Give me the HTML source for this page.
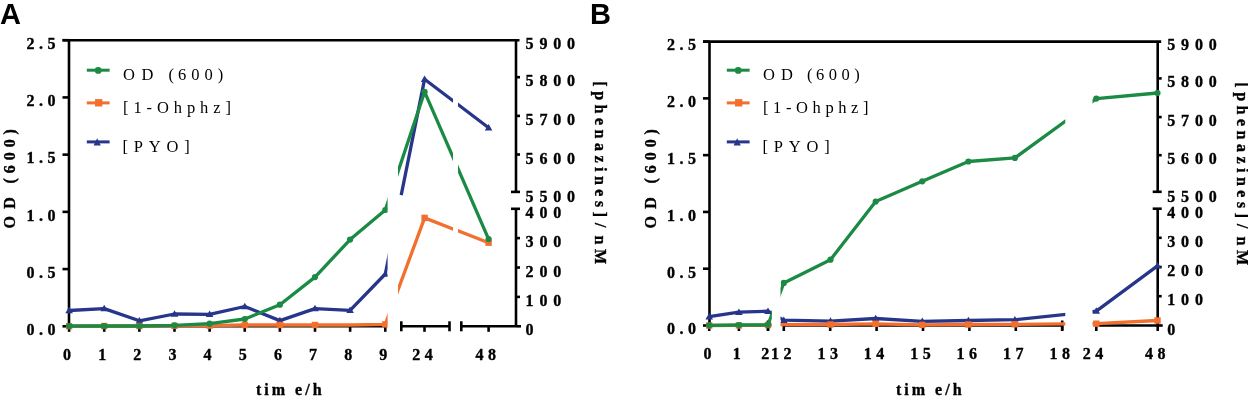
<!DOCTYPE html><html><head><meta charset="utf-8"><style>html,body{margin:0;padding:0;background:#fff;width:1248px;height:396px;overflow:hidden}svg{display:block;will-change:transform}</style></head><body><svg width="1248" height="396" viewBox="0 0 1248 396">
<defs>
<clipPath id="a1"><rect x="0" y="0" width="387.6" height="396"/></clipPath>
<clipPath id="a2"><rect x="398.0" y="0" width="55.0" height="396"/></clipPath>
<clipPath id="a3"><rect x="458.0" y="0" width="142.0" height="396"/></clipPath>
<clipPath id="a2b"><rect x="390" y="0" width="63.0" height="396"/></clipPath>
<clipPath id="b1"><rect x="640" y="0" width="131.79999999999995" height="396"/></clipPath>
<clipPath id="b2"><rect x="780.5" y="0" width="284.79999999999995" height="396"/></clipPath>
<clipPath id="b3"><rect x="1092.5" y="0" width="147.5" height="396"/></clipPath>
</defs>
<style>text{font-family:"Liberation Serif",serif;fill:#000}.tk,.tr,.ax{stroke:#000;stroke-width:0.35px}.tk{font-weight:bold;font-size:16px;letter-spacing:4.5px}.tr{font-weight:bold;font-size:16px;letter-spacing:5.8px}.lg{font-size:16.5px;letter-spacing:5.2px}.ax{font-weight:bold;font-size:16px;letter-spacing:3px}.pn{font-family:"Liberation Sans",sans-serif;font-weight:bold;font-size:29px}</style>
<rect width="1248" height="396" fill="#fff"/>
<line x1="62.5" y1="40.2" x2="519.5" y2="40.2" stroke="#000" stroke-width="2.6"/>
<line x1="69.0" y1="40.2" x2="69.0" y2="326.3" stroke="#000" stroke-width="2.6"/>
<line x1="62.5" y1="326.3" x2="69.0" y2="326.3" stroke="#000" stroke-width="2.6"/>
<line x1="62.5" y1="269.08" x2="69.0" y2="269.08" stroke="#000" stroke-width="2.6"/>
<line x1="62.5" y1="211.86" x2="69.0" y2="211.86" stroke="#000" stroke-width="2.6"/>
<line x1="62.5" y1="154.64" x2="69.0" y2="154.64" stroke="#000" stroke-width="2.6"/>
<line x1="62.5" y1="97.41999999999999" x2="69.0" y2="97.41999999999999" stroke="#000" stroke-width="2.6"/>
<line x1="62.5" y1="40.19999999999999" x2="69.0" y2="40.19999999999999" stroke="#000" stroke-width="2.6"/>
<line x1="69.0" y1="326.3" x2="386.5" y2="326.3" stroke="#000" stroke-width="2.6"/>
<line x1="401.3" y1="326.3" x2="449.5" y2="326.3" stroke="#000" stroke-width="2.6"/>
<line x1="401.3" y1="321.3" x2="401.3" y2="331.3" stroke="#000" stroke-width="2.6"/>
<line x1="449.5" y1="321.3" x2="449.5" y2="331.3" stroke="#000" stroke-width="2.6"/>
<line x1="461.3" y1="326.3" x2="516.0" y2="326.3" stroke="#000" stroke-width="2.6"/>
<line x1="461.3" y1="321.3" x2="461.3" y2="331.3" stroke="#000" stroke-width="2.6"/>
<line x1="69.1" y1="326.3" x2="69.1" y2="331.8" stroke="#000" stroke-width="2.6"/>
<line x1="104.22999999999999" y1="326.3" x2="104.22999999999999" y2="331.8" stroke="#000" stroke-width="2.6"/>
<line x1="139.36" y1="326.3" x2="139.36" y2="331.8" stroke="#000" stroke-width="2.6"/>
<line x1="174.49" y1="326.3" x2="174.49" y2="331.8" stroke="#000" stroke-width="2.6"/>
<line x1="209.62" y1="326.3" x2="209.62" y2="331.8" stroke="#000" stroke-width="2.6"/>
<line x1="244.75" y1="326.3" x2="244.75" y2="331.8" stroke="#000" stroke-width="2.6"/>
<line x1="279.88" y1="326.3" x2="279.88" y2="331.8" stroke="#000" stroke-width="2.6"/>
<line x1="315.01" y1="326.3" x2="315.01" y2="331.8" stroke="#000" stroke-width="2.6"/>
<line x1="350.14" y1="326.3" x2="350.14" y2="331.8" stroke="#000" stroke-width="2.6"/>
<line x1="385.27" y1="326.3" x2="385.27" y2="331.8" stroke="#000" stroke-width="2.6"/>
<line x1="424.5" y1="326.3" x2="424.5" y2="331.8" stroke="#000" stroke-width="2.6"/>
<line x1="488.6" y1="326.3" x2="488.6" y2="331.8" stroke="#000" stroke-width="2.6"/>
<line x1="516.0" y1="208.8" x2="516.0" y2="326.3" stroke="#000" stroke-width="2.6"/>
<line x1="516.0" y1="40.2" x2="516.0" y2="191.9" stroke="#000" stroke-width="2.6"/>
<line x1="511.0" y1="208.8" x2="520.0" y2="208.8" stroke="#000" stroke-width="2.6"/>
<line x1="511.0" y1="191.9" x2="520.0" y2="191.9" stroke="#000" stroke-width="2.6"/>
<line x1="516.0" y1="326.3" x2="521.0" y2="326.3" stroke="#000" stroke-width="2.6"/>
<line x1="516.0" y1="296.9" x2="520.0" y2="296.9" stroke="#000" stroke-width="2.6"/>
<line x1="516.0" y1="267.5" x2="520.0" y2="267.5" stroke="#000" stroke-width="2.6"/>
<line x1="516.0" y1="238.1" x2="520.0" y2="238.1" stroke="#000" stroke-width="2.6"/>
<line x1="516.0" y1="154.5" x2="520.0" y2="154.5" stroke="#000" stroke-width="2.6"/>
<line x1="516.0" y1="115.9" x2="520.0" y2="115.9" stroke="#000" stroke-width="2.6"/>
<line x1="516.0" y1="77.2" x2="520.0" y2="77.2" stroke="#000" stroke-width="2.6"/>
<line x1="703.0" y1="41.6" x2="1161.2" y2="41.6" stroke="#000" stroke-width="2.6"/>
<line x1="709.5" y1="41.6" x2="709.5" y2="325.5" stroke="#000" stroke-width="2.6"/>
<line x1="703.0" y1="325.5" x2="709.5" y2="325.5" stroke="#000" stroke-width="2.6"/>
<line x1="703.0" y1="268.72" x2="709.5" y2="268.72" stroke="#000" stroke-width="2.6"/>
<line x1="703.0" y1="211.94" x2="709.5" y2="211.94" stroke="#000" stroke-width="2.6"/>
<line x1="703.0" y1="155.16000000000003" x2="709.5" y2="155.16000000000003" stroke="#000" stroke-width="2.6"/>
<line x1="703.0" y1="98.38000000000002" x2="709.5" y2="98.38000000000002" stroke="#000" stroke-width="2.6"/>
<line x1="703.0" y1="41.60000000000002" x2="709.5" y2="41.60000000000002" stroke="#000" stroke-width="2.6"/>
<line x1="709.5" y1="325.5" x2="768.0" y2="325.5" stroke="#000" stroke-width="2.6"/>
<line x1="768.0" y1="320.5" x2="768.0" y2="330.5" stroke="#000" stroke-width="2.6"/>
<line x1="783.8" y1="325.5" x2="1062.2" y2="325.5" stroke="#000" stroke-width="2.6"/>
<line x1="1062.2" y1="320.5" x2="1062.2" y2="330.5" stroke="#000" stroke-width="2.6"/>
<line x1="1096.0" y1="325.5" x2="1157.7" y2="325.5" stroke="#000" stroke-width="2.6"/>
<line x1="709.2" y1="325.5" x2="709.2" y2="331.0" stroke="#000" stroke-width="2.6"/>
<line x1="738.9" y1="325.5" x2="738.9" y2="331.0" stroke="#000" stroke-width="2.6"/>
<line x1="768.0" y1="325.5" x2="768.0" y2="331.0" stroke="#000" stroke-width="2.6"/>
<line x1="783.8" y1="325.5" x2="783.8" y2="331.0" stroke="#000" stroke-width="2.6"/>
<line x1="830.1999999999999" y1="325.5" x2="830.1999999999999" y2="331.0" stroke="#000" stroke-width="2.6"/>
<line x1="876.5999999999999" y1="325.5" x2="876.5999999999999" y2="331.0" stroke="#000" stroke-width="2.6"/>
<line x1="923.0" y1="325.5" x2="923.0" y2="331.0" stroke="#000" stroke-width="2.6"/>
<line x1="969.4" y1="325.5" x2="969.4" y2="331.0" stroke="#000" stroke-width="2.6"/>
<line x1="1015.8" y1="325.5" x2="1015.8" y2="331.0" stroke="#000" stroke-width="2.6"/>
<line x1="1062.1999999999998" y1="325.5" x2="1062.1999999999998" y2="331.0" stroke="#000" stroke-width="2.6"/>
<line x1="1096.3" y1="325.5" x2="1096.3" y2="331.0" stroke="#000" stroke-width="2.6"/>
<line x1="1157.7" y1="325.5" x2="1157.7" y2="331.0" stroke="#000" stroke-width="2.6"/>
<line x1="1157.7" y1="208.7" x2="1157.7" y2="325.5" stroke="#000" stroke-width="2.6"/>
<line x1="1157.7" y1="41.6" x2="1157.7" y2="191.8" stroke="#000" stroke-width="2.6"/>
<line x1="1152.7" y1="208.7" x2="1161.7" y2="208.7" stroke="#000" stroke-width="2.6"/>
<line x1="1152.7" y1="191.8" x2="1161.7" y2="191.8" stroke="#000" stroke-width="2.6"/>
<line x1="1157.7" y1="325.5" x2="1162.7" y2="325.5" stroke="#000" stroke-width="2.6"/>
<line x1="1157.7" y1="296.2" x2="1161.7" y2="296.2" stroke="#000" stroke-width="2.6"/>
<line x1="1157.7" y1="267.0" x2="1161.7" y2="267.0" stroke="#000" stroke-width="2.6"/>
<line x1="1157.7" y1="237.8" x2="1161.7" y2="237.8" stroke="#000" stroke-width="2.6"/>
<line x1="1157.7" y1="155.2" x2="1161.7" y2="155.2" stroke="#000" stroke-width="2.6"/>
<line x1="1157.7" y1="117.1" x2="1161.7" y2="117.1" stroke="#000" stroke-width="2.6"/>
<line x1="1157.7" y1="78.4" x2="1161.7" y2="78.4" stroke="#000" stroke-width="2.6"/>
<polyline clip-path="url(#a1)" points="69.1,310.5 104.2,308.6 139.4,320.8 174.5,314.0 209.6,314.4 244.8,306.5 279.9,320.6 315.0,308.6 350.1,310.3 385.3,274.0 424.6,79.2 488.6,127.7" fill="none" stroke="#27368a" stroke-width="3.3" stroke-linejoin="round"/>
<polyline clip-path="url(#a3)" points="69.1,310.5 104.2,308.6 139.4,320.8 174.5,314.0 209.6,314.4 244.8,306.5 279.9,320.6 315.0,308.6 350.1,310.3 385.3,274.0 424.6,79.2 488.6,127.7" fill="none" stroke="#27368a" stroke-width="3.3" stroke-linejoin="round"/>
<polygon clip-path="url(#a1)" points="69.1,306.7 72.9,313.2 65.3,313.2" fill="#27368a"/>
<polygon clip-path="url(#a1)" points="104.2,304.8 108.0,311.3 100.4,311.3" fill="#27368a"/>
<polygon clip-path="url(#a1)" points="139.4,317.0 143.2,323.5 135.6,323.5" fill="#27368a"/>
<polygon clip-path="url(#a1)" points="174.5,310.2 178.3,316.7 170.7,316.7" fill="#27368a"/>
<polygon clip-path="url(#a1)" points="209.6,310.6 213.4,317.1 205.8,317.1" fill="#27368a"/>
<polygon clip-path="url(#a1)" points="244.8,302.7 248.6,309.2 240.9,309.2" fill="#27368a"/>
<polygon clip-path="url(#a1)" points="279.9,316.8 283.7,323.3 276.1,323.3" fill="#27368a"/>
<polygon clip-path="url(#a1)" points="315.0,304.8 318.8,311.3 311.2,311.3" fill="#27368a"/>
<polygon clip-path="url(#a1)" points="350.1,306.5 353.9,313.0 346.3,313.0" fill="#27368a"/>
<polygon clip-path="url(#a1)" points="385.3,270.2 389.1,276.7 381.5,276.7" fill="#27368a"/>
<polygon clip-path="url(#a2)" points="424.6,75.4 428.4,81.9 420.8,81.9" fill="#27368a"/>
<polygon clip-path="url(#a3)" points="488.6,123.9 492.4,130.4 484.8,130.4" fill="#27368a"/>
<polyline clip-path="url(#a2b)" points="401.2,195.1 424.6,79.2 488.6,127.7" fill="none" stroke="#27368a" stroke-width="3.3" stroke-linejoin="round"/>
<polyline clip-path="url(#a1)" points="69.1,326.2 104.2,326.0 139.4,326.0 174.5,325.8 209.6,325.6 244.8,325.0 279.9,325.0 315.0,325.0 350.1,325.0 385.3,324.4 424.6,217.9 488.6,242.7" fill="none" stroke="#f26f2e" stroke-width="3.3" stroke-linejoin="round"/>
<polyline clip-path="url(#a2)" points="69.1,326.2 104.2,326.0 139.4,326.0 174.5,325.8 209.6,325.6 244.8,325.0 279.9,325.0 315.0,325.0 350.1,325.0 385.3,324.4 424.6,217.9 488.6,242.7" fill="none" stroke="#f26f2e" stroke-width="3.3" stroke-linejoin="round"/>
<polyline clip-path="url(#a3)" points="69.1,326.2 104.2,326.0 139.4,326.0 174.5,325.8 209.6,325.6 244.8,325.0 279.9,325.0 315.0,325.0 350.1,325.0 385.3,324.4 424.6,217.9 488.6,242.7" fill="none" stroke="#f26f2e" stroke-width="3.3" stroke-linejoin="round"/>
<rect clip-path="url(#a1)" x="65.9" y="323.0" width="6.4" height="6.4" fill="#f26f2e"/>
<rect clip-path="url(#a1)" x="101.0" y="322.8" width="6.4" height="6.4" fill="#f26f2e"/>
<rect clip-path="url(#a1)" x="136.2" y="322.8" width="6.4" height="6.4" fill="#f26f2e"/>
<rect clip-path="url(#a1)" x="171.3" y="322.6" width="6.4" height="6.4" fill="#f26f2e"/>
<rect clip-path="url(#a1)" x="206.4" y="322.4" width="6.4" height="6.4" fill="#f26f2e"/>
<rect clip-path="url(#a1)" x="241.6" y="321.8" width="6.4" height="6.4" fill="#f26f2e"/>
<rect clip-path="url(#a1)" x="276.7" y="321.8" width="6.4" height="6.4" fill="#f26f2e"/>
<rect clip-path="url(#a1)" x="311.8" y="321.8" width="6.4" height="6.4" fill="#f26f2e"/>
<rect clip-path="url(#a1)" x="382.1" y="321.2" width="6.4" height="6.4" fill="#f26f2e"/>
<rect clip-path="url(#a2)" x="421.4" y="214.7" width="6.4" height="6.4" fill="#f26f2e"/>
<rect clip-path="url(#a3)" x="485.4" y="239.5" width="6.4" height="6.4" fill="#f26f2e"/>
<polyline clip-path="url(#a1)" points="69.1,326.0 104.2,326.0 139.4,326.0 174.5,325.3 209.6,323.7 244.8,319.0 279.9,304.7 315.0,277.1 350.1,239.6 385.3,210.0 424.6,91.9 488.6,239.1" fill="none" stroke="#1b8a44" stroke-width="3.3" stroke-linejoin="round"/>
<polyline clip-path="url(#a2)" points="69.1,326.0 104.2,326.0 139.4,326.0 174.5,325.3 209.6,323.7 244.8,319.0 279.9,304.7 315.0,277.1 350.1,239.6 385.3,210.0 424.6,91.9 488.6,239.1" fill="none" stroke="#1b8a44" stroke-width="3.3" stroke-linejoin="round"/>
<polyline clip-path="url(#a3)" points="69.1,326.0 104.2,326.0 139.4,326.0 174.5,325.3 209.6,323.7 244.8,319.0 279.9,304.7 315.0,277.1 350.1,239.6 385.3,210.0 424.6,91.9 488.6,239.1" fill="none" stroke="#1b8a44" stroke-width="3.3" stroke-linejoin="round"/>
<circle clip-path="url(#a1)" cx="69.1" cy="326.0" r="3.1" fill="#1b8a44"/>
<circle clip-path="url(#a1)" cx="104.2" cy="326.0" r="3.1" fill="#1b8a44"/>
<circle clip-path="url(#a1)" cx="139.4" cy="326.0" r="3.1" fill="#1b8a44"/>
<circle clip-path="url(#a1)" cx="174.5" cy="325.3" r="3.1" fill="#1b8a44"/>
<circle clip-path="url(#a1)" cx="209.6" cy="323.7" r="3.1" fill="#1b8a44"/>
<circle clip-path="url(#a1)" cx="244.8" cy="319.0" r="3.1" fill="#1b8a44"/>
<circle clip-path="url(#a1)" cx="279.9" cy="304.7" r="3.1" fill="#1b8a44"/>
<circle clip-path="url(#a1)" cx="315.0" cy="277.1" r="3.1" fill="#1b8a44"/>
<circle clip-path="url(#a1)" cx="350.1" cy="239.6" r="3.1" fill="#1b8a44"/>
<circle clip-path="url(#a1)" cx="385.3" cy="210.0" r="3.1" fill="#1b8a44"/>
<circle clip-path="url(#a2)" cx="424.6" cy="91.9" r="3.1" fill="#1b8a44"/>
<circle clip-path="url(#a3)" cx="488.6" cy="239.1" r="3.1" fill="#1b8a44"/>
<polyline clip-path="url(#b1)" points="709.2,316.7 738.9,312.2 768.0,311.2 783.8,320.2 830.5,321.1 875.7,318.5 922.3,321.3 968.4,320.5 1014.9,319.7 1096.3,311.1 1157.5,265.9" fill="none" stroke="#27368a" stroke-width="3.3" stroke-linejoin="round"/>
<polyline clip-path="url(#b2)" points="709.2,316.7 738.9,312.2 768.0,311.2 783.8,320.2 830.5,321.1 875.7,318.5 922.3,321.3 968.4,320.5 1014.9,319.7 1096.3,311.1 1157.5,265.9" fill="none" stroke="#27368a" stroke-width="3.3" stroke-linejoin="round"/>
<polyline clip-path="url(#b3)" points="709.2,316.7 738.9,312.2 768.0,311.2 783.8,320.2 830.5,321.1 875.7,318.5 922.3,321.3 968.4,320.5 1014.9,319.7 1096.3,311.1 1157.5,265.9" fill="none" stroke="#27368a" stroke-width="3.3" stroke-linejoin="round"/>
<polygon clip-path="url(#b1)" points="709.2,312.9 713.0,319.4 705.4,319.4" fill="#27368a"/>
<polygon clip-path="url(#b1)" points="738.9,308.4 742.7,314.9 735.1,314.9" fill="#27368a"/>
<polygon clip-path="url(#b1)" points="768.0,307.4 771.8,313.9 764.2,313.9" fill="#27368a"/>
<polygon clip-path="url(#b2)" points="783.8,316.4 787.6,322.9 780.0,322.9" fill="#27368a"/>
<polygon clip-path="url(#b2)" points="830.5,317.3 834.3,323.8 826.7,323.8" fill="#27368a"/>
<polygon clip-path="url(#b2)" points="875.7,314.7 879.5,321.2 871.9,321.2" fill="#27368a"/>
<polygon clip-path="url(#b2)" points="922.3,317.5 926.1,324.0 918.5,324.0" fill="#27368a"/>
<polygon clip-path="url(#b2)" points="968.4,316.7 972.2,323.2 964.6,323.2" fill="#27368a"/>
<polygon clip-path="url(#b2)" points="1014.9,315.9 1018.7,322.4 1011.1,322.4" fill="#27368a"/>
<polygon clip-path="url(#b3)" points="1096.3,307.3 1100.1,313.8 1092.5,313.8" fill="#27368a"/>
<polygon clip-path="url(#b3)" points="1157.5,262.1 1161.3,268.6 1153.7,268.6" fill="#27368a"/>
<polyline clip-path="url(#b1)" points="709.2,325.5 738.9,325.4 768.0,325.0 783.8,324.6 830.5,324.5 875.7,323.8 922.3,324.9 968.4,324.5 1014.9,324.3 1096.3,323.7 1157.5,320.5" fill="none" stroke="#f26f2e" stroke-width="3.3" stroke-linejoin="round"/>
<polyline clip-path="url(#b2)" points="709.2,325.5 738.9,325.4 768.0,325.0 783.8,324.6 830.5,324.5 875.7,323.8 922.3,324.9 968.4,324.5 1014.9,324.3 1096.3,323.7 1157.5,320.5" fill="none" stroke="#f26f2e" stroke-width="3.3" stroke-linejoin="round"/>
<polyline clip-path="url(#b3)" points="709.2,325.5 738.9,325.4 768.0,325.0 783.8,324.6 830.5,324.5 875.7,323.8 922.3,324.9 968.4,324.5 1014.9,324.3 1096.3,323.7 1157.5,320.5" fill="none" stroke="#f26f2e" stroke-width="3.3" stroke-linejoin="round"/>
<rect clip-path="url(#b1)" x="706.0" y="322.3" width="6.4" height="6.4" fill="#f26f2e"/>
<rect clip-path="url(#b1)" x="735.7" y="322.2" width="6.4" height="6.4" fill="#f26f2e"/>
<rect clip-path="url(#b1)" x="764.8" y="321.8" width="6.4" height="6.4" fill="#f26f2e"/>
<rect clip-path="url(#b2)" x="827.3" y="321.3" width="6.4" height="6.4" fill="#f26f2e"/>
<rect clip-path="url(#b2)" x="872.5" y="320.6" width="6.4" height="6.4" fill="#f26f2e"/>
<rect clip-path="url(#b2)" x="919.1" y="321.7" width="6.4" height="6.4" fill="#f26f2e"/>
<rect clip-path="url(#b2)" x="965.2" y="321.3" width="6.4" height="6.4" fill="#f26f2e"/>
<rect clip-path="url(#b2)" x="1011.7" y="321.1" width="6.4" height="6.4" fill="#f26f2e"/>
<rect clip-path="url(#b3)" x="1093.1" y="320.5" width="6.4" height="6.4" fill="#f26f2e"/>
<rect clip-path="url(#b3)" x="1154.3" y="317.3" width="6.4" height="6.4" fill="#f26f2e"/>
<polyline clip-path="url(#b1)" points="709.2,325.3 738.9,325.0 768.0,324.8 783.8,282.9 830.5,259.7 875.7,201.5 922.3,181.3 968.4,161.5 1014.9,157.9 1096.3,98.6 1157.5,93.0" fill="none" stroke="#1b8a44" stroke-width="3.3" stroke-linejoin="round"/>
<polyline clip-path="url(#b2)" points="709.2,325.3 738.9,325.0 768.0,324.8 783.8,282.9 830.5,259.7 875.7,201.5 922.3,181.3 968.4,161.5 1014.9,157.9 1096.3,98.6 1157.5,93.0" fill="none" stroke="#1b8a44" stroke-width="3.3" stroke-linejoin="round"/>
<polyline clip-path="url(#b3)" points="709.2,325.3 738.9,325.0 768.0,324.8 783.8,282.9 830.5,259.7 875.7,201.5 922.3,181.3 968.4,161.5 1014.9,157.9 1096.3,98.6 1157.5,93.0" fill="none" stroke="#1b8a44" stroke-width="3.3" stroke-linejoin="round"/>
<circle clip-path="url(#b1)" cx="709.2" cy="325.3" r="3.1" fill="#1b8a44"/>
<circle clip-path="url(#b1)" cx="738.9" cy="325.0" r="3.1" fill="#1b8a44"/>
<circle clip-path="url(#b1)" cx="768.0" cy="324.8" r="3.1" fill="#1b8a44"/>
<circle clip-path="url(#b2)" cx="783.8" cy="282.9" r="3.1" fill="#1b8a44"/>
<circle clip-path="url(#b2)" cx="830.5" cy="259.7" r="3.1" fill="#1b8a44"/>
<circle clip-path="url(#b2)" cx="875.7" cy="201.5" r="3.1" fill="#1b8a44"/>
<circle clip-path="url(#b2)" cx="922.3" cy="181.3" r="3.1" fill="#1b8a44"/>
<circle clip-path="url(#b2)" cx="968.4" cy="161.5" r="3.1" fill="#1b8a44"/>
<circle clip-path="url(#b2)" cx="1014.9" cy="157.9" r="3.1" fill="#1b8a44"/>
<circle clip-path="url(#b3)" cx="1096.3" cy="98.6" r="3.1" fill="#1b8a44"/>
<circle clip-path="url(#b3)" cx="1157.5" cy="93.0" r="3.1" fill="#1b8a44"/>
<line x1="86.8" y1="70.2" x2="109.6" y2="70.2" stroke="#1b8a44" stroke-width="3"/>
<line x1="86.8" y1="102.9" x2="109.6" y2="102.9" stroke="#f26f2e" stroke-width="3"/>
<line x1="86.8" y1="141.9" x2="109.6" y2="141.9" stroke="#27368a" stroke-width="3"/>
<circle cx="98.2" cy="70.4" r="3.4" fill="#1b8a44"/>
<rect x="95.0" y="99.1" width="7.3" height="7.4" fill="#f26f2e"/>
<polygon points="97.2,138.2 100.8,145.4 93.6,145.4" fill="#27368a"/>
<text x="123" y="79.5" class="lg" style="letter-spacing:5.0px" xml:space="preserve">O<tspan dx="1.5">D </tspan><tspan dx="1">(</tspan><tspan dx="-1">600)</tspan></text>
<text x="123" y="113.2" class="lg" text-anchor="start" style="letter-spacing:4.9px">[1-Ohphz]</text>
<text x="122.5" y="151.8" class="lg" text-anchor="start" style="letter-spacing:5.8px">[PYO]</text>
<line x1="726.8" y1="70.2" x2="749.6" y2="70.2" stroke="#1b8a44" stroke-width="3"/>
<line x1="726.8" y1="102.9" x2="749.6" y2="102.9" stroke="#f26f2e" stroke-width="3"/>
<line x1="726.8" y1="141.9" x2="749.6" y2="141.9" stroke="#27368a" stroke-width="3"/>
<circle cx="738.2" cy="70.4" r="3.4" fill="#1b8a44"/>
<rect x="735.0" y="99.1" width="7.3" height="7.4" fill="#f26f2e"/>
<polygon points="737.2,138.2 740.8,145.4 733.6,145.4" fill="#27368a"/>
<text x="763" y="79.5" class="lg" style="letter-spacing:4.5px" xml:space="preserve">O<tspan dx="1.5">D </tspan><tspan dx="1">(</tspan><tspan dx="-1">600)</tspan></text>
<text x="763" y="113.2" class="lg" text-anchor="start" style="letter-spacing:4.6px">[1-Ohphz]</text>
<text x="762.5" y="151.8" class="lg" text-anchor="start" style="letter-spacing:5.8px">[PYO]</text>
<text x="60.0" y="335.1" class="tk" text-anchor="end" >0.0</text>
<text x="60.0" y="277.88" class="tk" text-anchor="end" >0.5</text>
<text x="60.0" y="220.66000000000003" class="tk" text-anchor="end" >1.0</text>
<text x="60.0" y="163.44" class="tk" text-anchor="end" >1.5</text>
<text x="60.0" y="106.21999999999998" class="tk" text-anchor="end" >2.0</text>
<text x="60.0" y="48.999999999999986" class="tk" text-anchor="end" >2.5</text>
<text x="700.5" y="334.3" class="tk" text-anchor="end" >0.0</text>
<text x="700.5" y="277.52000000000004" class="tk" text-anchor="end" >0.5</text>
<text x="700.5" y="220.74" class="tk" text-anchor="end" >1.0</text>
<text x="700.5" y="163.96000000000004" class="tk" text-anchor="end" >1.5</text>
<text x="700.5" y="107.18000000000002" class="tk" text-anchor="end" >2.0</text>
<text x="700.5" y="50.40000000000002" class="tk" text-anchor="end" >2.5</text>
<text x="525.6" y="335.3" class="tr" text-anchor="start" >0</text>
<text x="525.6" y="305.9" class="tr" text-anchor="start" >100</text>
<text x="525.6" y="276.5" class="tr" text-anchor="start" >200</text>
<text x="525.6" y="247.1" class="tr" text-anchor="start" >300</text>
<text x="525.6" y="217.8" class="tr" text-anchor="start" >400</text>
<text x="525.6" y="202.4" class="tr" text-anchor="start" >5500</text>
<text x="525.6" y="163.5" class="tr" text-anchor="start" >5600</text>
<text x="525.6" y="124.9" class="tr" text-anchor="start" >5700</text>
<text x="525.6" y="86.2" class="tr" text-anchor="start" >5800</text>
<text x="525.6" y="49.2" class="tr" text-anchor="start" >5900</text>
<text x="1167.3" y="334.5" class="tr" text-anchor="start" >0</text>
<text x="1167.3" y="305.2" class="tr" text-anchor="start" >100</text>
<text x="1167.3" y="276.0" class="tr" text-anchor="start" >200</text>
<text x="1167.3" y="246.8" class="tr" text-anchor="start" >300</text>
<text x="1167.3" y="217.7" class="tr" text-anchor="start" >400</text>
<text x="1167.3" y="202.3" class="tr" text-anchor="start" >5500</text>
<text x="1167.3" y="164.2" class="tr" text-anchor="start" >5600</text>
<text x="1167.3" y="126.1" class="tr" text-anchor="start" >5700</text>
<text x="1167.3" y="87.4" class="tr" text-anchor="start" >5800</text>
<text x="1167.3" y="50.4" class="tr" text-anchor="start" >5900</text>
<text x="67.1" y="360.3" class="tk" text-anchor="middle" style="letter-spacing:0">0</text>
<text x="102.22999999999999" y="360.3" class="tk" text-anchor="middle" style="letter-spacing:0">1</text>
<text x="137.36" y="360.3" class="tk" text-anchor="middle" style="letter-spacing:0">2</text>
<text x="172.49" y="360.3" class="tk" text-anchor="middle" style="letter-spacing:0">3</text>
<text x="207.62" y="360.3" class="tk" text-anchor="middle" style="letter-spacing:0">4</text>
<text x="242.75" y="360.3" class="tk" text-anchor="middle" style="letter-spacing:0">5</text>
<text x="277.88" y="360.3" class="tk" text-anchor="middle" style="letter-spacing:0">6</text>
<text x="313.01" y="360.3" class="tk" text-anchor="middle" style="letter-spacing:0">7</text>
<text x="348.14" y="360.3" class="tk" text-anchor="middle" style="letter-spacing:0">8</text>
<text x="383.27" y="360.3" class="tk" text-anchor="middle" style="letter-spacing:0">9</text>
<text x="424.8" y="360.3" class="tk" text-anchor="middle" >24</text>
<text x="488.1" y="360.3" class="tk" text-anchor="middle" >48</text>
<text x="707.5" y="359" class="tk" text-anchor="middle" style="letter-spacing:0">0</text>
<text x="736.8" y="359" class="tk" text-anchor="middle" style="letter-spacing:0">1</text>
<text x="765.3" y="359" class="tk" text-anchor="middle" style="letter-spacing:0">2</text>
<text x="783.5" y="359" class="tk" text-anchor="middle" >12</text>
<text x="829.9" y="359" class="tk" text-anchor="middle" >13</text>
<text x="876.3" y="359" class="tk" text-anchor="middle" >14</text>
<text x="922.7" y="359" class="tk" text-anchor="middle" >15</text>
<text x="969.1" y="359" class="tk" text-anchor="middle" >16</text>
<text x="1015.5" y="359" class="tk" text-anchor="middle" >17</text>
<text x="1061.8999999999999" y="359" class="tk" text-anchor="middle" >18</text>
<text x="1095.3" y="359" class="tk" text-anchor="middle" >24</text>
<text x="1157.5" y="359" class="tk" text-anchor="middle" >48</text>
<text x="290.3" y="395" class="ax" text-anchor="middle" xml:space="preserve">tim e/h</text>
<text x="930.3" y="395" class="ax" text-anchor="middle" xml:space="preserve">tim e/h</text>
<text class="ax" transform="translate(14.9,228.6) rotate(-90)" style="letter-spacing:4.9px" xml:space="preserve">O<tspan dx="2.5">D (600)</tspan></text>
<text class="ax" transform="translate(656.2,228.6) rotate(-90)" style="letter-spacing:4.9px" xml:space="preserve">O<tspan dx="2.5">D (600)</tspan></text>
<text class="ax" transform="translate(595.2,81.3) rotate(90)" style="letter-spacing:4.5px">[phenazines]<tspan dx="1.5">/</tspan><tspan dx="3.5">nM</tspan></text>
<text class="ax" transform="translate(1237,82.3) rotate(90)" style="letter-spacing:4.5px">[phenazines]<tspan dx="1.5">/</tspan><tspan dx="3.5">nM</tspan></text>
<text x="0" y="24" class="pn" text-anchor="start" >A</text>
<text x="590" y="24" class="pn" text-anchor="start" >B</text>
</svg></body></html>
